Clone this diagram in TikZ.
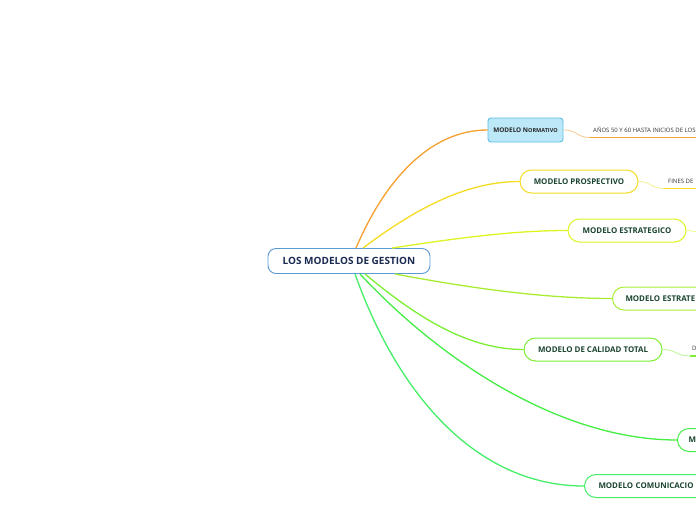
\documentclass[tikz,border=0pt]{standalone}
\usepackage{fontspec}
\setmainfont{Open Sans}
\definecolor{rootblue}{HTML}{5B9BD5}
\definecolor{roottext}{HTML}{1A2A50}
\definecolor{tgreen}{HTML}{1B4530}
\definecolor{cOrange}{HTML}{F5A030}
\definecolor{cOrangeL}{HTML}{F8C890}
\definecolor{cYellow}{HTML}{F5DC20}
\definecolor{cYellowL}{HTML}{F8EC90}
\definecolor{cLime}{HTML}{DCF520}
\definecolor{cLimeL}{HTML}{EEFA90}
\definecolor{cG4}{HTML}{A8EE30}
\definecolor{cG5}{HTML}{7CEE33}
\definecolor{cG5L}{HTML}{B8F690}
\definecolor{cG6}{HTML}{44EE44}
\definecolor{cG7}{HTML}{44EE66}
\definecolor{nfill}{HTML}{BDE8F8}
\definecolor{nborder}{HTML}{5BBFE8}
\begin{document}
\begin{tikzpicture}[x=1pt,y=-1pt,
  central/.style={draw=rootblue, fill=white, line width=0.9pt, rounded corners=8pt,
    minimum width=162pt, minimum height=25pt, inner sep=0pt, text=roottext,
    font=\bfseries\fontsize{10}{12}\selectfont},
  normbox/.style={draw=nborder, fill=nfill, line width=0.9pt, rounded corners=3pt,
    minimum width=75pt, minimum height=24pt, inner sep=0pt, text=black!85},
  topic/.style={fill=white, line width=1pt, rounded corners=11.5pt,
    minimum height=23pt, inner sep=0pt, text=tgreen,
    font=\bfseries\fontsize{7.9}{9}\selectfont},
  cuttopic/.style={topic, anchor=west, text width=120pt, align=left},
  note/.style={font=\fontsize{6}{7}\selectfont, text=black!80, inner sep=0pt, anchor=base west},
  branch/.style={line width=1.3pt},
  thinlink/.style={line width=0.8pt},
  underline/.style={line width=1.6pt}
]
\useasboundingbox (0,0) rectangle (696,520);
\clip (0,0) rectangle (696,520);

% nodes
\node[central] (root) at (349,261) {LOS MODELOS DE GESTION};
\node[normbox] (n1) at (525.5,130) {\bfseries\fontsize{6.4}{7}\selectfont MODELO N\fontsize{5.5}{7}\selectfont ORMATIVO};
\node[topic, draw=cYellow, minimum width=118pt] (n2) at (579,181.5) {MODELO PROSPECTIVO};
\node[topic, draw=cLime, minimum width=118pt] (n3) at (627,230.5) {MODELO ESTRATEGICO};
\node[cuttopic, draw=cG4, inner xsep=13pt] (n4) at (612,298.5) {MODELO ESTRATE};
\node[topic, draw=cG5, minimum width=138pt] (n5) at (593,349.5) {MODELO DE CALIDAD TOTAL};
\node[cuttopic, draw=cG6, inner xsep=11pt] (n6) at (677,440) {M};
\node[cuttopic, draw=cG7, inner xsep=14pt] (n7) at (584,486) {MODELO COMUNICACIO};

% branches from the central topic
\draw[branch, cOrange] ([xshift=7pt]root.north) .. controls (385,180) and (430,130) .. (n1.west);
\draw[branch, cYellow] ([xshift=14pt]root.north) .. controls (420,205) and (470,181.5) .. (n2.west);
\draw[branch, cLime] ([xshift=43pt]root.north) .. controls (470,236) and (520,230.5) .. (n3.west);
\draw[branch, cG4] ([xshift=46pt]root.south) .. controls (480,290) and (550,298.5) .. (n4.west);
\draw[branch, cG5] ([xshift=16pt]root.south) .. controls (420,320) and (470,349.5) .. (n5.west);
\draw[branch, cG6] ([xshift=11pt]root.south) .. controls (440,360) and (560,440) .. (n6.west);
\draw[branch, cG7] ([xshift=6pt]root.south) .. controls (400,400) and (480,486) .. (n7.west);

% sub-topics on the right
\node[note] (t1) at (593,132) {AÑOS 50 Y 60 HASTA INICIOS DE LOS};
\coordinate (u1) at (590,137.5);
\coordinate (u1e) at (700,137.5);
\draw[thinlink, cOrangeL] (n1.east) .. controls (578,130) and (576,137.5) .. (u1);
\draw[underline, cOrange] (u1) -- (u1e);

\node[note] (t2) at (668,183) {FINES DE};
\coordinate (u2) at (664,188.5);
\coordinate (u2e) at (700,188.5);
\draw[thinlink, cYellowL] (n2.east) .. controls (652,181.5) and (650,188.5) .. (u2);
\draw[underline, cYellow] (u2) -- (u2e);

\coordinate (u3) at (700,232);
\draw[thinlink, cLimeL] (n3.east) .. controls (692,230.5) and (694,232) .. (u3);

\node[note] (t5) at (692,350) {D};
\coordinate (u5) at (690,356);
\coordinate (u5e) at (700,356);
\draw[thinlink, cG5L] (n5.east) .. controls (676,349.5) and (676,356) .. (u5);
\draw[underline, cG5] (u5) -- (u5e);
\end{tikzpicture}
\end{document}
